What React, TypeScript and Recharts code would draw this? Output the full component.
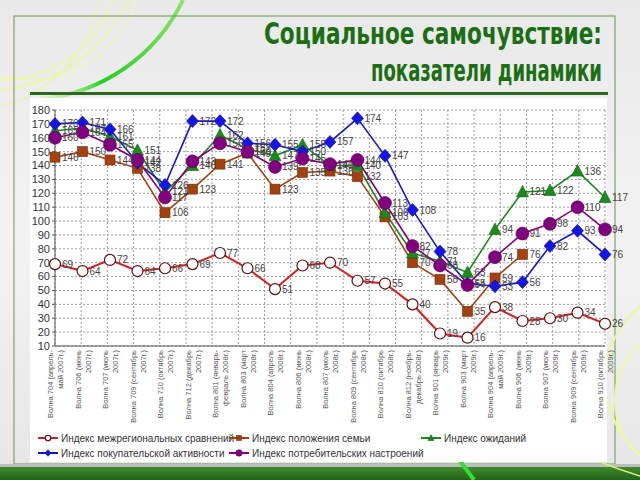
import React from 'react';
import { LineChart, Line, XAxis, YAxis, CartesianGrid, LabelList, Legend } from 'recharts';

const waveLabels: string[][] = [
  ['Волна 704 (апрель-', 'май 2007г.)'],
  ['Волна 706 (июнь', '2007г.)'],
  ['Волна 707 (июль', '2007г.)'],
  ['Волна 709 (сентябрь', '2007г.)'],
  ['Волна 710 (октябрь', '2007г.)'],
  ['Волна 712 (декабрь', '2007г.)'],
  ['Волна 801 (январь-', 'февраль 2008г.)'],
  ['Волна 803 (март', '2008г.)'],
  ['Волна 804 (апрель', '2008г.)'],
  ['Волна 806 (июнь', '2008г.)'],
  ['Волна 807 (июль', '2008г.)'],
  ['Волна 809 (сентябрь', '2008г.)'],
  ['Волна 810 (октябрь', '2008г.)'],
  ['Волна 812 (ноябрь-', 'декабрь 2008г.)'],
  ['Волна 901 (январь', '2009г.)'],
  ['Волна 903 (март', '2009г.)'],
  ['Волна 904 (апрель-', 'май 2009г.)'],
  ['Волна 906 (июнь', '2009г.)'],
  ['Волна 907 (июль', '2009г.)'],
  ['Волна 909 (сентябрь', '2009г.)'],
  ['Волна 910 (октябрь', '2009г.)'],
];

const interregional = [69, 64, 72, 64, 66, 69, 77, 66, 51, 68, 70, 57, 55, 40, 19, 16, 38, 28, 30, 34, 26];
const family = [146, 150, 144, 138, 106, 123, 141, 149, 123, 135, 136, 132, 103, 70, 58, 35, 59, 76, null, null, null];
const expectations = [165, 167, 161, 151, 121, 140, 162, 152, 147, 155, 140, 140, 106, 77, 71, 63, 94, 121, 122, 136, 117];
const purchasing = [170, 171, 166, 142, 126, 172, 172, 156, 155, 150, 157, 174, 147, 108, 78, 55, 53, 56, 82, 93, 76];
const consumer = [160, 164, 155, 144, 117, 143, 156, 150, 139, 145, 141, 144, 113, 82, 68, 54, 74, 91, 98, 110, 94];

const yTicks = [10, 20, 30, 40, 50, 60, 70, 80, 90, 100, 110, 120, 130, 140, 150, 160, 170, 180];

const seriesNames = {
  interregional: 'Индекс межрегиональных сравнений',
  family: 'Индекс положения семьи',
  expectations: 'Индекс ожиданий',
  purchasing: 'Индекс покупательской активности',
  consumer: 'Индекс потребительских настроений',
};

const titleLines = ['Социальное самочувствие:', 'показатели динамики'];

const data = waveLabels.map((l, i) => ({
  name: l.join(' '),
  interregional: interregional[i],
  family: family[i],
  expectations: expectations[i],
  purchasing: purchasing[i],
  consumer: consumer[i],
}));

const COLORS = {
  interregional: '#d42020',
  family: '#a3420e',
  expectations: '#1c8a1c',
  purchasing: '#1515d0',
  consumer: '#800080',
};

type Kind = 'circleW' | 'square' | 'triangle' | 'diamond' | 'circleP';

const shape = (kind: Kind, cx: number, cy: number, s = 1) => {
  switch (kind) {
    case 'circleW':
      return <circle cx={cx} cy={cy} r={5.5 * s} fill="#fff" stroke="#5a1010" strokeWidth={1.2} />;
    case 'square':
      return <rect x={cx - 5 * s} y={cy - 5 * s} width={10 * s} height={10 * s} fill="#a3420e" stroke="#7a2e08" strokeWidth={0.6} />;
    case 'triangle':
      return (
        <polygon
          points={`${cx},${cy - 6.5 * s} ${cx + 6 * s},${cy + 5 * s} ${cx - 6 * s},${cy + 5 * s}`}
          fill="#1c8a1c"
          stroke="#126012"
          strokeWidth={0.6}
        />
      );
    case 'diamond':
      return (
        <polygon
          points={`${cx},${cy - 6.5 * s} ${cx + 6 * s},${cy} ${cx},${cy + 6.5 * s} ${cx - 6 * s},${cy}`}
          fill="#1515e8"
          stroke="#0a0a90"
          strokeWidth={0.6}
        />
      );
    default:
      return <circle cx={cx} cy={cy} r={6.5 * s} fill="#800080" stroke="#5a005a" strokeWidth={0.6} />;
  }
};

const makeDot = (kind: Kind) => (props: any) => {
  const { cx, cy, index, value } = props;
  if (cx == null || cy == null || value == null || Number.isNaN(cy)) return <g key={`e-${kind}-${index}`} />;
  return <g key={`d-${kind}-${index}`}>{shape(kind, cx, cy)}</g>;
};

const XTick = (props: any) => {
  const { x, y, index } = props;
  const lines = waveLabels[index] || [];
  return (
    <g transform={`translate(${x},${y})`}>
      <text transform="rotate(-90)" textAnchor="end" fontSize={7.5} fill="#555" fontFamily="Liberation Sans, Arial, sans-serif">
        <tspan x={0} y={-2}>{lines[0]}</tspan>
        <tspan x={0} y={8}>{lines[1]}</tspan>
      </text>
    </g>
  );
};

const legendItems: { key: keyof typeof seriesNames; kind: Kind; left: number; top: number }[] = [
  { key: 'interregional', kind: 'circleW', left: 7, top: 10 },
  { key: 'family', kind: 'square', left: 198, top: 10 },
  { key: 'expectations', kind: 'triangle', left: 390, top: 10 },
  { key: 'purchasing', kind: 'diamond', left: 7, top: 25 },
  { key: 'consumer', kind: 'circleP', left: 198, top: 25 },
];

const renderLegend = () => (
  <div style={{ position: 'relative', width: 577, height: 34, fontFamily: 'Liberation Sans, Arial, sans-serif' }}>
    {legendItems.map((it) => (
      <div key={it.key} style={{ position: 'absolute', left: it.left, top: it.top - 7, height: 14, display: 'flex', alignItems: 'center', whiteSpace: 'nowrap' }}>
        <svg width={22} height={14} style={{ display: 'block' }}>
          <line x1={1} y1={7} x2={21} y2={7} stroke={COLORS[it.key]} strokeWidth={2} />
          {shape(it.kind, 11, 7, 0.5)}
        </svg>
        <span style={{ fontSize: 10, color: '#333', marginLeft: 2 }}>{seriesNames[it.key]}</span>
      </div>
    ))}
  </div>
);

const vGen = ({ offset }: any) => {
  const n = waveLabels.length;
  const arr: number[] = [];
  for (let i = 0; i <= n; i++) arr.push(offset.left + (i * offset.width) / n);
  return arr;
};

export default function App() {
  return (
    <div
      style={{
        position: 'fixed',
        left: 0,
        top: 0,
        width: 640,
        height: 480,
        overflow: 'hidden',
        background: 'linear-gradient(180deg, #e9e9e9 0%, #f3f3f3 50%, #e6e6e6 100%)',
      }}
    >
      <svg width={640} height={480} style={{ position: 'absolute', left: 0, top: 0 }}>
        <defs>
          <linearGradient id="arcG" x1="0" y1="1" x2="1" y2="0">
            <stop offset="0" stopColor="#aef07a" stopOpacity="0.2" />
            <stop offset="0.3" stopColor="#22d022" stopOpacity="1" />
            <stop offset="1" stopColor="#7ae04a" stopOpacity="0.8" />
          </linearGradient>
          <linearGradient id="bandG" x1="0" y1="0" x2="0" y2="1">
            <stop offset="0" stopColor="#3f8a2c" />
            <stop offset="1" stopColor="#22621a" />
          </linearGradient>
        </defs>
        <circle cx={0} cy={-40} r={120} fill="none" stroke="#eef7a0" strokeWidth={2} opacity={0.9} />
        <circle cx={-10} cy={-60} r={150} fill="none" stroke="#eaf6a0" strokeWidth={2} opacity={0.8} />
        <circle cx={30} cy={-30} r={110} fill="none" stroke="#f0f8b0" strokeWidth={1.5} opacity={0.8} />
        <circle cx={-30} cy={-20} r={130} fill="none" stroke="#e8f5a0" strokeWidth={1.5} opacity={0.7} />
        <path d="M 40 99 A 176 176 0 0 0 183 0" fill="none" stroke="url(#arcG)" strokeWidth={4} />
        <rect x={14} y={16} width={601} height={448} fill="none" stroke="#5c9a48" strokeWidth={1} />
        <circle cx={700} cy={380} r={95} fill="none" stroke="#eaf6a0" strokeWidth={2} />
        <circle cx={690} cy={400} r={75} fill="none" stroke="#eef7a8" strokeWidth={2} />
        <rect x={0} y={464} width={640} height={3} fill="#bdbdbd" />
        <rect x={0} y={467} width={640} height={13} fill="url(#bandG)" />
        <path d="M 458 458 L 474 480" stroke="#35e035" strokeWidth={4} />
        <path d="M 600 462 Q 620 470 640 476" stroke="#d8f080" strokeWidth={1.5} fill="none" />
        <text
          x={602}
          y={44}
          textAnchor="end"
          fontSize={30}
          fontWeight="bold"
          fill="#1b6e14"
          fontFamily="Liberation Sans Narrow, DejaVu Sans Condensed, Arial, sans-serif"
          textLength={338}
          lengthAdjust="spacingAndGlyphs"
        >
          {titleLines[0]}
        </text>
        <text
          x={602}
          y={81}
          textAnchor="end"
          fontSize={30}
          fontWeight="bold"
          fill="#1b6e14"
          fontFamily="Liberation Sans Narrow, DejaVu Sans Condensed, Arial, sans-serif"
          textLength={231}
          lengthAdjust="spacingAndGlyphs"
        >
          {titleLines[1]}
        </text>
        <rect x={30} y={92} width={578} height={3} fill="#2b6a1c" />
      </svg>
      <div style={{ position: 'absolute', left: 30, top: 98, width: 577, height: 364, background: '#fff' }} />
      <div style={{ position: 'absolute', left: 0, top: 0 }}>
        <LineChart
          width={640}
          height={480}
          data={data}
          margin={{ top: 110, right: 35, left: 0, bottom: 20 }}
          style={{ fontFamily: 'Liberation Sans, Arial, sans-serif' }}
        >
          <CartesianGrid stroke="#9a9a9a" strokeDasharray="2 2" verticalCoordinatesGenerator={vGen} />
          <XAxis
            dataKey="name"
            interval={0}
            height={80}
            tick={<XTick />}
            tickLine={false}
            tickSize={4}
            tickMargin={0}
            axisLine={{ stroke: '#555' }}
          />
          <YAxis
            domain={[10, 180]}
            ticks={yTicks}
            interval={0}
            width={55}
            tickSize={3}
            tickMargin={2}
            tick={{ fontSize: 11, fill: '#333' }}
            axisLine={{ stroke: '#555' }}
            tickLine={{ stroke: '#555' }}
          />
          <Legend content={renderLegend} wrapperStyle={{ left: 30, top: 428, width: 577, height: 34 }} />
          <Line
            type="linear"
            dataKey="interregional"
            name={seriesNames.interregional}
            stroke={COLORS.interregional}
            strokeWidth={2}
            dot={makeDot('circleW')}
            isAnimationActive={false}
          >
            <LabelList dataKey="interregional" position="right" offset={7} fontSize={10} fill="#444" />
          </Line>
          <Line
            type="linear"
            dataKey="family"
            name={seriesNames.family}
            stroke={COLORS.family}
            strokeWidth={1.6}
            dot={makeDot('square')}
            isAnimationActive={false}
          >
            <LabelList dataKey="family" position="right" offset={7} fontSize={10} fill="#444" />
          </Line>
          <Line
            type="linear"
            dataKey="expectations"
            name={seriesNames.expectations}
            stroke={COLORS.expectations}
            strokeWidth={1.6}
            dot={makeDot('triangle')}
            isAnimationActive={false}
          >
            <LabelList dataKey="expectations" position="right" offset={7} fontSize={10} fill="#444" />
          </Line>
          <Line
            type="linear"
            dataKey="purchasing"
            name={seriesNames.purchasing}
            stroke={COLORS.purchasing}
            strokeWidth={1.6}
            dot={makeDot('diamond')}
            isAnimationActive={false}
          >
            <LabelList dataKey="purchasing" position="right" offset={7} fontSize={10} fill="#444" />
          </Line>
          <Line
            type="linear"
            dataKey="consumer"
            name={seriesNames.consumer}
            stroke={COLORS.consumer}
            strokeWidth={1.6}
            dot={makeDot('circleP')}
            isAnimationActive={false}
          >
            <LabelList dataKey="consumer" position="right" offset={7} fontSize={10} fill="#444" />
          </Line>
        </LineChart>
      </div>
    </div>
  );
}
